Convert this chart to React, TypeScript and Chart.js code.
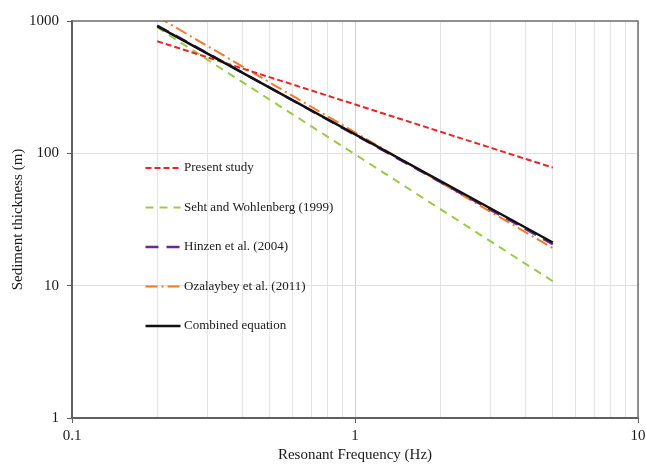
import React, { useEffect, useRef } from "react";
import { Chart, registerables } from "chart.js";

Chart.register(...registerables);

// ---- data ----
const frequencies = [0.2, 5];
const presentStudy = [703, 78];
const sehtWohlenberg = [894, 10.8];
const hinzen = [925, 20.6];
const ozalaybey = [1080, 19.2];
const combinedEquation = [914, 21.2];

const seriesLabels = [
  "Present study",
  "Seht and Wohlenberg (1999)",
  "Hinzen et al. (2004)",
  "Ozalaybey et al. (2011)",
  "Combined equation",
];

const xGridValues = [0.1, 0.2, 0.3, 0.4, 0.5, 0.6, 0.7, 0.8, 0.9, 1, 2, 3, 4, 5, 6, 7, 8, 9, 10];
const xMajorTicks = [0.1, 1, 10];
const xMajorLabels = ["0.1", "1", "10"];
const yTickValues = [1, 10, 100, 1000];
const yTickLabels = ["1", "10", "100", "1000"];

const FONT = "'Liberation Serif', 'Times New Roman', serif";

const isMajor = (v: number) => Math.abs(Math.log10(v) - Math.round(Math.log10(v))) < 1e-6;

const toPoints = (ys: number[]) => frequencies.map((x, i) => ({ x, y: ys[i] }));

const styles = [
  { color: "#e8262a", dash: [6, 3], width: 2 },
  { color: "#9cc94a", dash: [8, 6], width: 2 },
  { color: "#6a2c8e", dash: [13, 8], width: 2.5 },
  { color: "#f07a30", dash: [12, 4, 2, 4], width: 2 },
  { color: "#111111", dash: [] as number[], width: 2.5 },
];

const frameAndLegend = {
  id: "frameAndLegend",
  afterDraw(chart: any) {
    const { ctx, chartArea } = chart;
    const { left, right, top, bottom } = chartArea;
    ctx.save();
    ctx.strokeStyle = "#707070";
    ctx.lineWidth = 1.5;
    ctx.setLineDash([]);
    ctx.beginPath();
    ctx.moveTo(left, top);
    ctx.lineTo(right, top);
    ctx.lineTo(right, bottom);
    ctx.stroke();

    const lx0 = left + 73.5;
    const lx1 = left + 108.5;
    const tx = left + 112;
    const y0 = 168;
    const step = 39.5;
    ctx.font = `13px ${FONT}`;
    ctx.textBaseline = "middle";
    ctx.textAlign = "left";
    seriesLabels.forEach((label, i) => {
      const s = styles[i];
      const y = y0 + i * step;
      ctx.strokeStyle = s.color;
      ctx.lineWidth = s.width;
      ctx.setLineDash(s.dash);
      ctx.beginPath();
      ctx.moveTo(lx0, y);
      ctx.lineTo(lx1, y);
      ctx.stroke();
      ctx.setLineDash([]);
      ctx.fillStyle = "#1a1a1a";
      ctx.fillText(label, tx, y);
    });
    ctx.restore();
  },
};

export default function App() {
  const ref = useRef<HTMLCanvasElement>(null);

  useEffect(() => {
    if (!ref.current) return;
    Chart.defaults.font.family = FONT;
    Chart.defaults.color = "#1a1a1a";
    const seriesData = [presentStudy, sehtWohlenberg, hinzen, ozalaybey, combinedEquation];
    const orders = [2, 3, 1, 2, 0];
    const chart = new Chart(ref.current, {
      type: "line",
      data: {
        datasets: seriesData.map((d, i) => ({
          label: seriesLabels[i],
          data: toPoints(d),
          borderColor: styles[i].color,
          borderDash: styles[i].dash,
          borderWidth: styles[i].width,
          pointRadius: 0,
          fill: false,
          tension: 0,
          order: orders[i],
        })),
      },
      options: {
        responsive: false,
        animation: false,
        devicePixelRatio: 1,
        layout: { padding: { left: 0, right: 8, top: 21, bottom: 0 } },
        plugins: { legend: { display: false }, tooltip: { enabled: false } },
        scales: {
          x: {
            type: "logarithmic",
            min: 0.1,
            max: 10,
            afterBuildTicks: (scale: any) => {
              scale.ticks = xGridValues.map((v) => ({ value: v }));
            },
            afterFit: (scale: any) => {
              scale.height = 46;
              scale.paddingLeft = 0;
              scale.paddingRight = 0;
            },
            ticks: {
              autoSkip: false,
              maxRotation: 0,
              padding: 4,
              font: { size: 15, family: FONT },
              color: "#1a1a1a",
              callback: (value: any) => {
                const idx = xMajorTicks.findIndex((m) => Math.abs(m - Number(value)) < 1e-9);
                return idx >= 0 ? xMajorLabels[idx] : "";
              },
            },
            grid: {
              color: (c: any) => (c.tick && isMajor(c.tick.value) ? "#d0d0d0" : "#e4e4e4"),
              lineWidth: 1,
              tickLength: 5,
              tickColor: (c: any) => (c.tick && isMajor(c.tick.value) ? "#606060" : "rgba(0,0,0,0)"),
            },
            border: { display: true, color: "#606060", width: 2 },
            title: {
              display: true,
              text: "Resonant Frequency (Hz)",
              font: { size: 15, family: FONT },
              color: "#1a1a1a",
              padding: { top: 0, bottom: 0 },
            },
          },
          y: {
            type: "logarithmic",
            min: 1,
            max: 1000,
            afterBuildTicks: (scale: any) => {
              scale.ticks = yTickValues.map((v) => ({ value: v }));
            },
            afterFit: (scale: any) => {
              scale.width = 72;
            },
            ticks: {
              autoSkip: false,
              padding: 8,
              font: { size: 15, family: FONT },
              color: "#1a1a1a",
              callback: (value: any) => {
                const idx = yTickValues.findIndex((m) => Math.abs(m - Number(value)) < 1e-9);
                return idx >= 0 ? yTickLabels[idx] : "";
              },
            },
            grid: {
              color: "#e0e0e0",
              lineWidth: 1,
              tickLength: 5,
              tickColor: "#606060",
            },
            border: { display: true, color: "#606060", width: 2 },
            title: {
              display: true,
              text: "Sediment thickness (m)",
              font: { size: 15, family: FONT },
              color: "#1a1a1a",
              padding: { top: 9, bottom: 0 },
            },
          },
        },
      },
      plugins: [frameAndLegend],
    });
    return () => chart.destroy();
  }, []);

  return (
    <div style={{ position: "fixed", left: 0, top: 0, width: 646, height: 464, background: "#fff" }}>
      <canvas ref={ref} width={646} height={464} />
    </div>
  );
}
